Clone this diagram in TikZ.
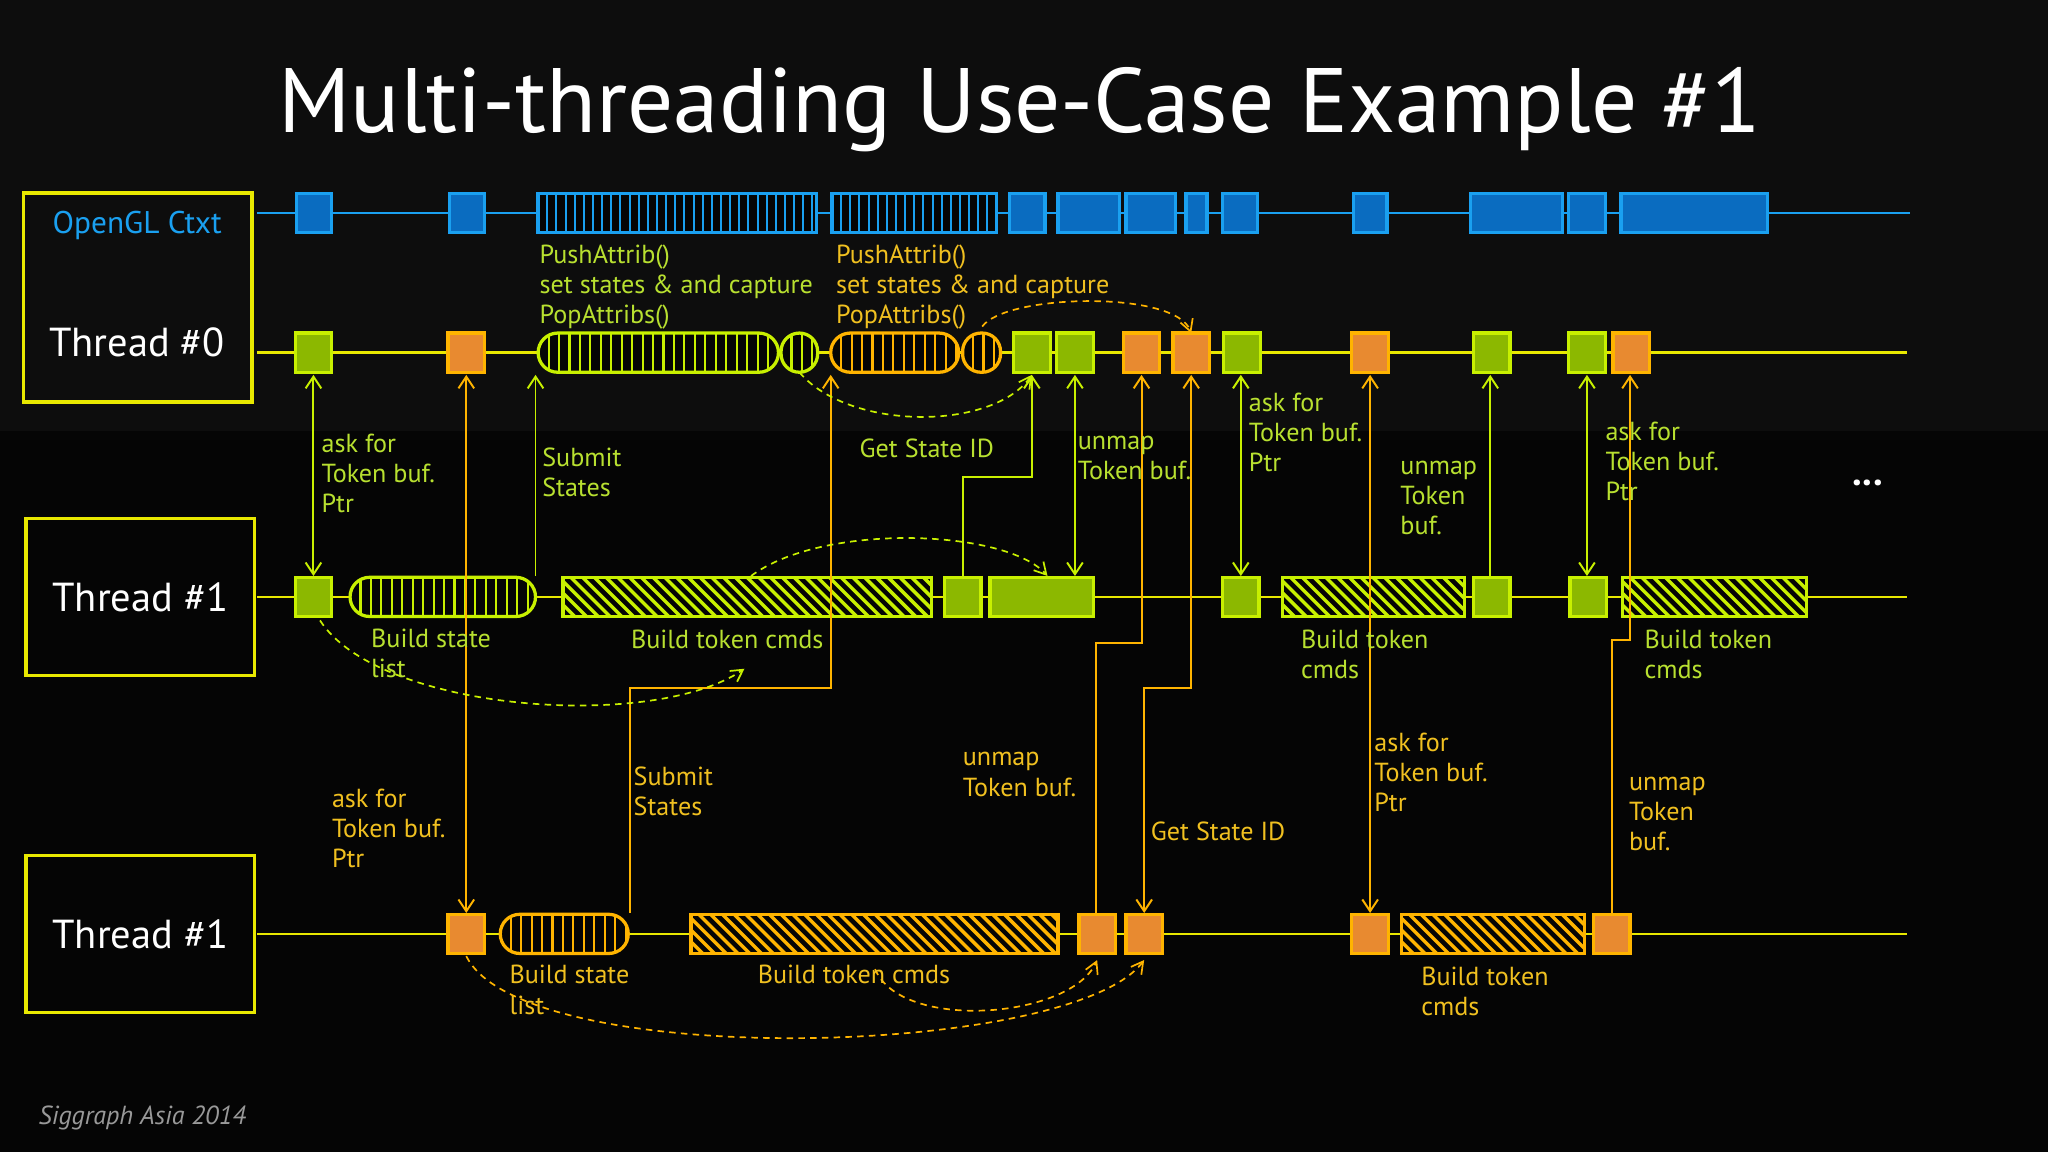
\documentclass[tikz,border=0pt]{standalone}
\usepackage{fontspec}
\setmainfont{PT Sans}
\usetikzlibrary{arrows.meta}
\definecolor{cbg}{HTML}{050505}
\definecolor{cgr}{HTML}{C8F000}
\definecolor{cgrfill}{HTML}{8CB800}
\definecolor{cye}{HTML}{E8E800}
\definecolor{cog}{HTML}{FFB400}
\definecolor{cogfill}{HTML}{E88A30}
\definecolor{cbl}{HTML}{1AA0F0}
\definecolor{cblfill}{HTML}{0A6CC0}
\definecolor{ctgreen}{HTML}{B8E030}
\definecolor{ctorange}{HTML}{F0C020}
\newcommand\mysq[5]{\draw[#5,fill=#5fill,line width=2.5] (#1,#2) rectangle (#3,#4);}
\newcommand\myvh[7]{\begin{scope}\clip[rounded corners=#5] (#1,#2) rectangle (#3,#4);
 \fill[cbg] (#1,#2) rectangle (#3,#4);
 \pgfmathsetmacro\xs{#1+#7}\pgfmathsetmacro\xt{#1+2*#7}
 \foreach \x in {\xs,\xt,...,#3} \draw[#6,line width=1.6] (\x,#2) -- (\x,#4);\end{scope}
 \draw[#6,line width=2.5,rounded corners=#5] (#1,#2) rectangle (#3,#4);}
\newcommand\mydh[5]{\begin{scope}\clip (#1,#2) rectangle (#3,#4);
 \fill[cbg] (#1,#2) rectangle (#3,#4);
 \pgfmathsetmacro\xs{#1-30}\pgfmathsetmacro\xt{#1-21}
 \foreach \x in {\xs,\xt,...,#3} \draw[#5,line width=2.6] (\x,#2) -- (\x+30,#4);\end{scope}
 \draw[#5,line width=2.5] (#1,#2) rectangle (#3,#4);}
\tikzset{
 lab/.style={font=\fontsize{20}{23}\selectfont,align=left,anchor=north west,inner sep=0},
 arr/.style={line width=1.5,-{Straight Barb[length=9,width=12]}},
 darr/.style={line width=1.5,{Straight Barb[length=9,width=12]}-{Straight Barb[length=9,width=12]}},
 dsh/.style={line width=1.3,dash pattern=on 5pt off 4pt,-{Straight Barb[length=9,width=10]}},
 tbox/.style={draw=cye,line width=2.5,minimum width=175,minimum height=120,font=\fontsize{31}{36}\selectfont,text=white}
}
\begin{document}
\begin{tikzpicture}[x=1pt,y=-1pt]
\fill[cbg] (0,0) rectangle (1568,882);
\fill[white,opacity=0.035] (0,0) rectangle (1568,330);
\useasboundingbox (0,0) rectangle (1568,882);
\node[text=white,font=\fontsize{70}{76}\selectfont] (title) at (781,84) {Multi-threading Use-Case Example \#1};
% left boxes
\node[draw=cye,line width=3,minimum width=175,minimum height=160,inner sep=0] (c0) at (105.5,228) {};
\node[text=cbl,font=\fontsize{24}{28}\selectfont] (ctx) at (105,173) {OpenGL Ctxt};
\node[text=white,font=\fontsize{31}{36}\selectfont] (t0) at (105,262) {Thread \#0};
\node[tbox] (t1) at (107.5,457) {Thread \#1};
\node[tbox] (t2) at (107.5,715) {Thread \#1};
% time lines
\draw[cbl,line width=2] (197,163) -- (1462,163);
\draw[cye,line width=2] (197,270) -- (1460,270);
\draw[cye,line width=2] (197,457) -- (1460,457);
\draw[cye,line width=2] (197,715) -- (1460,715);
% blue row
\foreach \a/\b in {227/254,344/371,773/800,810/857,862/900,908/924,936/963,1036/1062,1126/1196,1201/1229,1241/1353}
  \draw[cbl,fill=cblfill,line width=2.5] (\a,148) rectangle (\b,178);
\myvh{412}{148}{625}{178}{0}{cbl}{7}
\myvh{637}{148}{763}{178}{0}{cbl}{7}
% thread 0 row
\foreach \a in {226,776,809,937,1128,1201} {\mysq{\a}{255}{\a+28}{285}{cgr}}
\foreach \a in {343,860,898,1035,1235} {\mysq{\a}{255}{\a+28}{285}{cog}}
\myvh{412}{255}{596}{285}{15}{cgr}{8}
\myvh{598}{255}{626}{285}{14}{cgr}{8}
\myvh{636}{255}{734}{285}{15}{cog}{8}
\myvh{737}{255}{766}{285}{14}{cog}{8}
% thread 1 row
\foreach \a in {226,723,936,1128,1202} {\mysq{\a}{442}{\a+28}{472}{cgr}}
\mysq{758}{442}{837}{472}{cgr}
\myvh{268}{442}{410}{472}{15}{cgr}{8}
\mydh{431}{442}{713}{472}{cgr}
\mydh{982}{442}{1121}{472}{cgr}
\mydh{1242}{442}{1383}{472}{cgr}
% thread 1b row
\foreach \a in {343,826,862,1035,1220} {\mysq{\a}{700}{\a+28}{730}{cog}}
\myvh{383}{700}{481}{730}{15}{cog}{8}
\mydh{529}{700}{810}{730}{cog}
\mydh{1073}{700}{1213}{730}{cog}
% text on top
\node[lab,text=ctgreen] (pa1) at (413,187) {PushAttrib()\\set states \& and capture\\PopAttribs()};
\node[lab,text=ctorange] (pa2) at (640,187) {PushAttrib()\\set states \& and capture\\PopAttribs()};
% connectors
\draw[darr,cgr] (240,287) -- (240,441);
\draw[darr,cog] (357,287) -- (357,699);
\draw[arr,cgr] (410,441) -- (410,287);
\draw[arr,cog] (482,699) -- (482,527) -- (636,527) -- (636,287);
\draw[arr,cgr] (737,441) -- (737,365) -- (790,365) -- (790,287);
\draw[darr,cgr] (823,287) -- (823,441);
\draw[arr,cog] (839,699) -- (839,492) -- (874,492) -- (874,287);
\draw[darr,cog] (876,699) -- (876,527) -- (912,527) -- (912,287);
\draw[darr,cgr] (950,287) -- (950,441);
\draw[darr,cog] (1049,287) -- (1049,699);
\draw[arr,cgr] (1141,441) -- (1141,287);
\draw[darr,cgr] (1215,287) -- (1215,441);
\draw[arr,cog] (1234,699) -- (1234,490) -- (1248,490) -- (1248,287);
% dashed
\draw[dsh,cgr] (612,285) .. controls (650,330) and (760,330) .. (790,287);
\draw[dsh,cog] (752,250) .. controls (770,225) and (900,222) .. (912,255);
\draw[dsh,cgr] (245,475) .. controls (290,545) and (500,560) .. (570,512);
\draw[dsh,cgr] (575,441) .. controls (630,400) and (770,405) .. (802,441);
\draw[dsh,cog] (357,732) .. controls (400,820) and (820,810) .. (876,735);
\draw[dsh,cog] (670,742) .. controls (690,790) and (820,780) .. (840,735);
% labels
\node[lab,text=ctgreen] (l1) at (246,332) {ask for\\Token buf.\\Ptr};
\node[lab,text=ctgreen] (l2) at (415,343) {Submit\\States};
\node[lab,text=ctgreen] (l3) at (658,336) {Get State ID};
\node[lab,text=ctgreen] (l4) at (825,334) {unmap\\Token buf.};
\node[lab,text=ctgreen] (l5) at (956,301) {ask for\\Token buf.\\Ptr};
\node[lab,text=ctgreen] (l6) at (1072,353) {unmap\\Token\\buf.};
\node[lab,text=ctgreen] (l7) at (1229,323) {ask for\\Token buf.\\Ptr};
\node[lab,text=ctgreen] (l8) at (284,481) {Build state\\list};
\node[lab,text=ctgreen] (l9) at (483,482) {Build token cmds};
\node[lab,text=ctgreen] (l10) at (996,482) {Build token\\cmds};
\node[lab,text=ctgreen] (l11) at (1259,482) {Build token\\cmds};
\node[lab,text=ctorange] (m1) at (254,604) {ask for\\Token buf.\\Ptr};
\node[lab,text=ctorange] (m2) at (485,587) {Submit\\States};
\node[lab,text=ctorange] (m3) at (737,576) {unmap\\Token buf.};
\node[lab,text=ctorange] (m4) at (881,629) {Get State ID};
\node[lab,text=ctorange] (m5) at (1052,561) {ask for\\Token buf.\\Ptr};
\node[lab,text=ctorange] (m6) at (1247,595) {unmap\\Token\\buf.};
\node[lab,text=ctorange] (m7) at (390,739) {Build state\\list};
\node[lab,text=ctorange] (m8) at (580,739) {Build token cmds};
\node[lab,text=ctorange] (m9) at (1088,740) {Build token\\cmds};
\node[text=white,font=\bfseries\fontsize{30}{30}\selectfont] (dots) at (1430,370) {...};
\node[text=gray!80,font=\itshape\fontsize{20}{22}\selectfont,anchor=west] (sig) at (26,856) {Siggraph Asia 2014};
\end{tikzpicture}
\end{document}
